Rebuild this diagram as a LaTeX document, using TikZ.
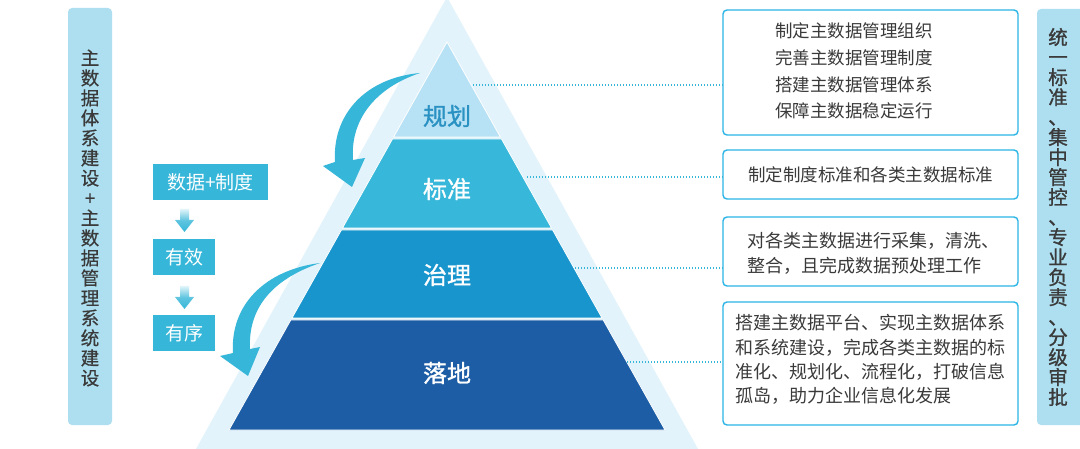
\documentclass[tikz,border=0pt]{standalone}
\usepackage{fontspec}
\setmainfont{Noto Sans CJK SC}
\newfontfamily\medfont{Noto Sans CJK SC}[FakeBold=1.2]
\newfontfamily\lightbold{Noto Sans CJK SC}[FakeBold=0.5]
\definecolor{barc}{HTML}{ADDFF0}
\definecolor{boxc}{HTML}{36B6D8}
\definecolor{outerc}{HTML}{E2F3FB}
\definecolor{lay1}{HTML}{B7E1F5}
\definecolor{lay1t}{HTML}{2A92C2}
\definecolor{lay2}{HTML}{37B7D9}
\definecolor{lay3}{HTML}{1995CD}
\definecolor{lay4}{HTML}{1C5DA5}
\definecolor{linec}{HTML}{2BB4E6}
\definecolor{txtc}{HTML}{3A3A3A}
\begin{document}
\begin{tikzpicture}[x=1pt,y=-1pt,
  sidebar/.style={fill=barc, rounded corners=4pt},
  sidetext/.style={align=center, inner sep=0, text=txtc},
  flowbox/.style={fill=boxc, text=white, inner sep=0, font=\fontsize{19}{19}\selectfont},
  descbox/.style={draw=linec, line width=1.4pt, rounded corners=4pt, fill=white, inner sep=0},
  desctext/.style={text=txtc, align=left, inner sep=0},
  dots/.style={draw=boxc, line width=1.8pt, dash pattern=on 1.4pt off 1.6pt},
  layerlabel/.style={text=white, inner sep=0, font=\fontsize{24}{24}\selectfont\medfont},
  layer/.style={draw=white, line width=0.8pt},
  bigarrow/.style={fill=boxc},
  smallarrow/.style={top color=boxc!15, bottom color=boxc, middle color=boxc!80}
]
\useasboundingbox (0,0) rectangle (1080,449);
\clip (0,0) rectangle (1080,449);
\fill[white] (0,0) rectangle (1080,449);

% left sidebar
\fill[sidebar] (68,8) rectangle (112,425);
\node[sidetext, font=\fontsize{18.5}{20}\selectfont\lightbold] (lt) at (90,218)
  {主\\数\\据\\体\\系\\建\\设\\+\\主\\数\\据\\管\\理\\系\\统\\建\\设};

% right sidebar
\fill[sidebar] (1037,9) rectangle (1090,425);
\node[sidetext, font=\fontsize{19.5}{20}\selectfont\medfont] (rt) at (1058,217)
  {统\\一\\标\\准\\、\\集\\中\\管\\控\\、\\专\\业\\负\\责\\、\\分\\级\\审\\批};

% flow boxes
\node[flowbox, minimum width=115pt, minimum height=36pt] (f1) at (210.5,182) {数据+制度};
\node[flowbox, minimum width=62pt, minimum height=36pt] (f2) at (184,257) {有效};
\node[flowbox, minimum width=62pt, minimum height=36pt] (f3) at (184,333) {有序};
\shade[smallarrow] (180,209) -- (189,209) -- (189,220) -- (194,220) -- (184.5,232) -- (175,220) -- (180,220) -- cycle;
\shade[smallarrow] (180,286) -- (189,286) -- (189,297) -- (194,297) -- (184.5,309) -- (175,297) -- (180,297) -- cycle;

% outer triangle
\fill[outerc] (447,-3) -- (703,458) -- (191,458) -- cycle;

% layers
\filldraw[layer, fill=lay1] (447,42) -- (500.4,137) -- (393.6,137) -- cycle;
\filldraw[layer, fill=lay2] (392.5,139) -- (501.5,139) -- (551.5,228) -- (342.5,228) -- cycle;
\filldraw[layer, fill=lay3] (341.4,230) -- (552.6,230) -- (602,318) -- (292,318) -- cycle;
\filldraw[layer, fill=lay4] (290.8,320) -- (603.2,320) -- (665,430) -- (229,430) -- cycle;

\node[layerlabel, text=lay1t] (l1) at (447,116) {规划};
\node[layerlabel] (l2) at (447,189) {标准};
\node[layerlabel] (l3) at (447,275) {治理};
\node[layerlabel] (l4) at (447,373) {落地};

% curved arrows
\fill[bigarrow] (420,73) .. controls (365,78) and (332,115) .. (335,162) -- (323,166) -- (352,187) -- (365,158) -- (353,160) .. controls (350,120) and (375,88) .. (420,73) -- cycle;
\fill[bigarrow] (320,263) .. controls (265,270) and (230,305) .. (233,353) -- (220,356) -- (248,376) -- (260,347) -- (250,349) .. controls (248,310) and (270,280) .. (320,263) -- cycle;

% description boxes
\node[descbox, minimum width=295pt, minimum height=125pt] (d1) at (870.5,72.5) {};
\node[descbox, minimum width=295pt, minimum height=49pt] (d2) at (870.5,174.5) {};
\node[descbox, minimum width=295pt, minimum height=69pt] (d3) at (870.5,251.5) {};
\node[descbox, minimum width=295pt, minimum height=123pt] (d4) at (870.5,363.5) {};

\node[desctext, font=\fontsize{17.5}{26.7}\selectfont] (t1) at (854,71)
  {制定主数据管理组织\\完善主数据管理制度\\搭建主数据管理体系\\保障主数据稳定运行};
\node[desctext, font=\fontsize{17.5}{20}\selectfont] (t2) at (870.5,175) {制定制度标准和各类主数据标准};
\node[desctext, anchor=west, font=\fontsize{18}{25}\selectfont] (t3) at (747,253.5)
  {对各类主数据进行采集，清洗、\\整合，且完成数据预处理工作};
\node[desctext, anchor=west, font=\fontsize{18}{24.3}\selectfont] (t4) at (735,359.5)
  {搭建主数据平台、实现主数据体系\\和系统建设，完成各类主数据的标\\准化、规划化、流程化，打破信息\\孤岛，助力企业信息化发展};

% dotted connectors
\coordinate (p1) at (473,85);
\coordinate (p2) at (527,177);
\coordinate (p3) at (575,268);
\coordinate (p4) at (627,362);
\draw[dots] (p1) -- (p1 -| d1.west);
\draw[dots] (p2) -- (p2 -| d2.west);
\draw[dots] (p3) -- (p3 -| d3.west);
\draw[dots] (p4) -- (p4 -| d4.west);
\end{tikzpicture}
\end{document}
